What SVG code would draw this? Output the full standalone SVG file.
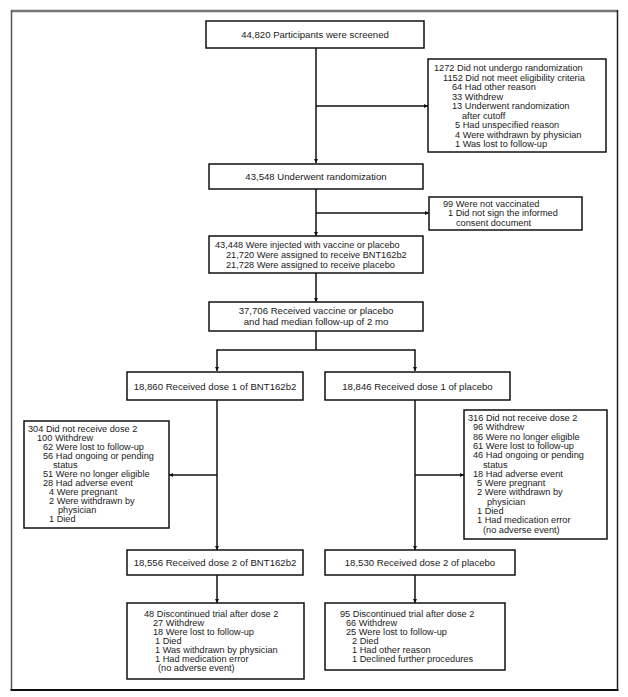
<svg xmlns="http://www.w3.org/2000/svg" width="628" height="697" viewBox="0 0 628 697">
<defs>
<marker id="ah" viewBox="0 0 10 10" refX="10" refY="5" markerWidth="4" markerHeight="4" orient="auto" markerUnits="userSpaceOnUse">
<path d="M0,0 L10,5 L0,10 z" fill="#111"/>
</marker>
</defs>
<style>
.box{fill:#fff;stroke:#111;stroke-width:1.5}
.lbl{font-family:"Liberation Sans",Arial,sans-serif;font-size:9.6px;fill:#1a1a1a}
.lst{font-family:"Liberation Sans",Arial,sans-serif;font-size:9.2px;fill:#1a1a1a}
.c{text-anchor:middle}
.ln{fill:none;stroke:#111;stroke-width:1.5}
</style>
<rect width="628" height="697" fill="#fff"/>
<g id="frame">
<line x1="11" y1="11" x2="618" y2="11" stroke="#777" stroke-width="2.5"/>
<line x1="11.5" y1="10" x2="11.5" y2="690" stroke="#555" stroke-width="1.5"/>
<line x1="617.5" y1="10" x2="617.5" y2="690" stroke="#222" stroke-width="1.5"/>
<line x1="10.5" y1="690" x2="618.5" y2="690" stroke="#111" stroke-width="2"/>
</g>
<g id="connectors">
<path class="ln" d="M316,48 V163" marker-end="url(#ah)"/>
<path class="ln" d="M316,106 H428" marker-end="url(#ah)"/>
<path class="ln" d="M316,189 V236" marker-end="url(#ah)"/>
<path class="ln" d="M316,213 H429" marker-end="url(#ah)"/>
<path class="ln" d="M316,273 V302" marker-end="url(#ah)"/>
<path class="ln" d="M316,331 V350"/>
<path class="ln" d="M217,350 H415"/>
<path class="ln" d="M217,349.25 V371" marker-end="url(#ah)"/>
<path class="ln" d="M415,349.25 V371" marker-end="url(#ah)"/>
<path class="ln" d="M217,400 V550" marker-end="url(#ah)"/>
<path class="ln" d="M217,475 H169" marker-end="url(#ah)"/>
<path class="ln" d="M415,400 V550" marker-end="url(#ah)"/>
<path class="ln" d="M415,475 H464" marker-end="url(#ah)"/>
<path class="ln" d="M217,575 V603" marker-end="url(#ah)"/>
<path class="ln" d="M415,575 V603" marker-end="url(#ah)"/>
</g>
<g id="screened">
<rect class="box" x="206" y="21" width="218" height="27"/>
<text class="lbl c" x="315" y="38">44,820 Participants were screened</text>
</g>
<g id="not-randomized">
<rect class="box" x="428" y="59" width="178" height="93"/>
<text class="lst" y="71">
<tspan x="434">1272 Did not undergo randomization</tspan>
<tspan x="443" y="80.5">1152 Did not meet eligibility criteria</tspan>
<tspan x="452" y="90">64 Had other reason</tspan>
<tspan x="452" y="99.5">33 Withdrew</tspan>
<tspan x="452" y="109">13 Underwent randomization</tspan>
<tspan x="462" y="118.5">after cutoff</tspan>
<tspan x="455" y="128">5 Had unspecified reason</tspan>
<tspan x="455" y="137.5">4 Were withdrawn by physician</tspan>
<tspan x="455" y="147">1 Was lost to follow-up</tspan>
</text>
</g>
<g id="randomized">
<rect class="box" x="209" y="164" width="214" height="25"/>
<text class="lbl c" x="316" y="180">43,548 Underwent randomization</text>
</g>
<g id="not-vaccinated">
<rect class="box" x="429" y="197" width="153" height="33"/>
<text class="lst" y="206.5">
<tspan x="443">99 Were not vaccinated</tspan>
<tspan x="448" y="216">1 Did not sign the informed</tspan>
<tspan x="456" y="225.5">consent document</tspan>
</text>
</g>
<g id="injected">
<rect class="box" x="209" y="236" width="214" height="37"/>
<text class="lbl" y="248" style="font-size:9.2px">
<tspan x="215">43,448 Were injected with vaccine or placebo</tspan>
<tspan x="226" y="258">21,720 Were assigned to receive BNT162b2</tspan>
<tspan x="226" y="268">21,728 Were assigned to receive placebo</tspan>
</text>
</g>
<g id="followup">
<rect class="box" x="209" y="302" width="214" height="29"/>
<text class="lbl c" x="316" y="314">37,706 Received vaccine or placebo<tspan x="316" y="325">and had median follow-up of 2 mo</tspan></text>
</g>
<g id="dose1-vaccine">
<rect class="box" x="127" y="372" width="176" height="28"/>
<text class="lbl c" x="215" y="389.5">18,860 Received dose 1 of BNT162b2</text>
</g>
<g id="dose1-placebo">
<rect class="box" x="325" y="372" width="185" height="28"/>
<text class="lbl c" x="417.5" y="389.5">18,846 Received dose 1 of placebo</text>
</g>
<g id="no-dose2-vaccine">
<rect class="box" x="24" y="421" width="145" height="107"/>
<text class="lst" y="432">
<tspan x="28">304 Did not receive dose 2</tspan>
<tspan x="37" y="441">100 Withdrew</tspan>
<tspan x="43" y="450">62 Were lost to follow-up</tspan>
<tspan x="43" y="459">56 Had ongoing or pending</tspan>
<tspan x="53" y="468">status</tspan>
<tspan x="43" y="477">51 Were no longer eligible</tspan>
<tspan x="43" y="486">28 Had adverse event</tspan>
<tspan x="49" y="495">4 Were pregnant</tspan>
<tspan x="49" y="504">2 Were withdrawn by</tspan>
<tspan x="58" y="513">physician</tspan>
<tspan x="49" y="522">1 Died</tspan>
</text>
</g>
<g id="no-dose2-placebo">
<rect class="box" x="464" y="410" width="143" height="129"/>
<text class="lst" y="421">
<tspan x="468">316 Did not receive dose 2</tspan>
<tspan x="473" y="430.3">96 Withdrew</tspan>
<tspan x="473" y="439.6">86 Were no longer eligible</tspan>
<tspan x="473" y="448.9">61 Were lost to follow-up</tspan>
<tspan x="473" y="458.2">46 Had ongoing or pending</tspan>
<tspan x="483" y="467.5">status</tspan>
<tspan x="473" y="476.8">18 Had adverse event</tspan>
<tspan x="477" y="486.1">5 Were pregnant</tspan>
<tspan x="477" y="495.4">2 Were withdrawn by</tspan>
<tspan x="487" y="504.7">physician</tspan>
<tspan x="477" y="514">1 Died</tspan>
<tspan x="477" y="523.3">1 Had medication error</tspan>
<tspan x="483" y="532.6">(no adverse event)</tspan>
</text>
</g>
<g id="dose2-vaccine">
<rect class="box" x="127" y="550" width="176" height="25"/>
<text class="lbl c" x="215" y="566">18,556 Received dose 2 of BNT162b2</text>
</g>
<g id="dose2-placebo">
<rect class="box" x="325" y="550" width="190" height="25"/>
<text class="lbl c" x="420" y="566">18,530 Received dose 2 of placebo</text>
</g>
<g id="discontinued-vaccine">
<rect class="box" x="127" y="603" width="177" height="76"/>
<text class="lst" y="617">
<tspan x="144">48 Discontinued trial after dose 2</tspan>
<tspan x="153" y="626">27 Withdrew</tspan>
<tspan x="153" y="635">18 Were lost to follow-up</tspan>
<tspan x="155" y="644">1 Died</tspan>
<tspan x="155" y="653">1 Was withdrawn by physician</tspan>
<tspan x="155" y="662">1 Had medication error</tspan>
<tspan x="158" y="671">(no adverse event)</tspan>
</text>
</g>
<g id="discontinued-placebo">
<rect class="box" x="325" y="603" width="180" height="67"/>
<text class="lst" y="617">
<tspan x="340">95 Discontinued trial after dose 2</tspan>
<tspan x="346" y="626">66 Withdrew</tspan>
<tspan x="346" y="635">25 Were lost to follow-up</tspan>
<tspan x="352" y="644">2 Died</tspan>
<tspan x="352" y="653">1 Had other reason</tspan>
<tspan x="352" y="662">1 Declined further procedures</tspan>
</text>
</g>
</svg>
